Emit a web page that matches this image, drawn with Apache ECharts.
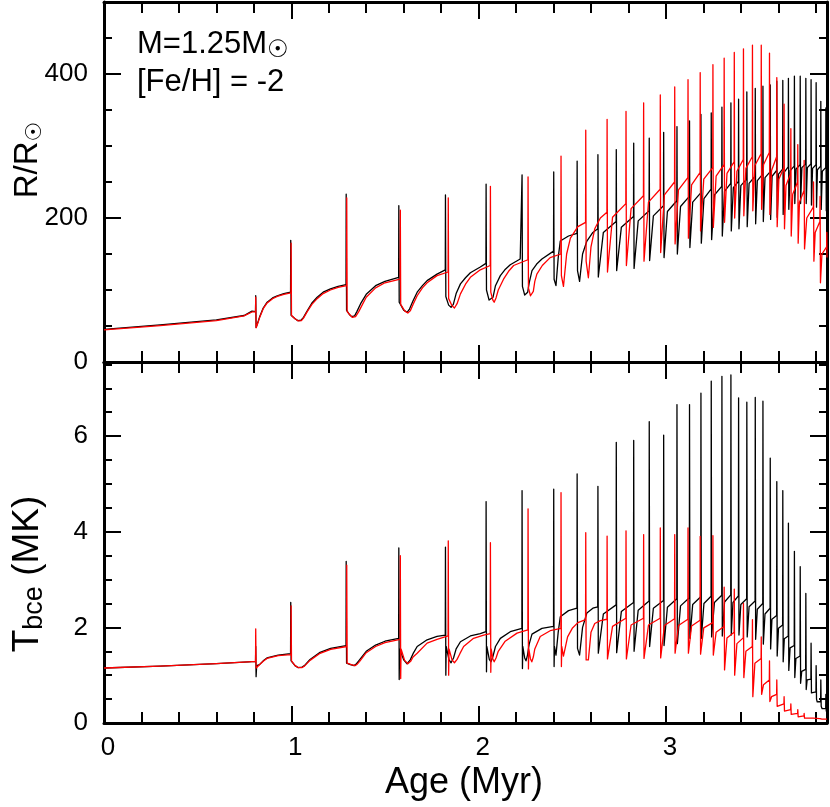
<!DOCTYPE html>
<html><head><meta charset="utf-8">
<script src="https://cdn.jsdelivr.net/npm/echarts@6/dist/echarts.min.js"></script>
<style>html,body{margin:0;padding:0;background:#fff}#c{width:830px;height:807px}</style>
</head><body><div id="c"></div>
<script>
// ---- tick values ----
const xMajorTicks = [0, 1, 2, 3];
const xMinorTicks = [0.2, 0.4, 0.6, 0.8, 1.2, 1.4, 1.6, 1.8, 2.2, 2.4, 2.6, 2.8, 3.2, 3.4, 3.6, 3.8];
const rMajorTicks = [0, 200, 400];
const rMinorTicks = [50, 100, 150, 250, 300, 350, 450];
const tMajorTicks = [0, 2, 4, 6];
const tMinorTicks = [0.5, 1, 1.5, 2.5, 3, 3.5, 4.5, 5, 5.5, 6.5, 7, 7.5];

// ---- data: [age (Myr), value] ----
const radiusBlack = [
[0,45.3],[0.3,51.5],[0.6,58.5],[0.748,64.6],[0.79,70.6],[0.809,70],
[0.810,92],[0.812,48],[0.82,54],[0.83,62],[0.85,75],[0.871,83],[0.90,89],[0.925,92],[0.96,95],[0.996,97],
[0.997,169],[0.999,65],[1.02,60],[1.035,57.5],[1.043,56.7],[1.052,58],[1.065,62],[1.085,71],[1.11,82],[1.138,90],[1.17,97],[1.209,101.6],[1.25,105],[1.292,107.5],
[1.293,233],[1.295,72],[1.31,66],[1.322,63],[1.328,62.5],[1.338,64],[1.35,70],[1.37,81],[1.40,94],[1.45,106],[1.50,112],[1.573,117.6],
[1.574,217],[1.576,83],[1.60,72],[1.61,69.5],[1.618,69],[1.63,73],[1.65,85],[1.672,97],[1.70,106],[1.725,113],[1.778,122],[1.822,128],
[1.823,232],[1.825,91],[1.84,79],[1.853,76],[1.865,80],[1.88,95],[1.903,108.5],[1.93,117],[1.956,124],[2.009,132],[2.039,137],
[2.040,247],[2.042,100],[2.056,86],[2.066,84],[2.077,90],[2.09,106],[2.116,120],[2.14,128],[2.169,135],[2.222,143],[2.231,144],
[2.232,260],[2.234,105],[2.246,93],[2.253,91],[2.262,97],[2.27,110],[2.285,127],[2.31,136],[2.338,143],[2.400,154],
[2.401,264],[2.403,115],[2.413,106],[2.425,145],[2.436,168],[2.480,175],[2.525,178.6],
[2.526,279],[2.528,127],[2.539,112],[2.555,150],[2.578,168],[2.61,180],[2.636,185],
[2.637,288],[2.639,118],[2.666,180],[2.734,195],
[2.735,295],[2.737,127],[2.762,187],[2.827,202],
[2.828,304],[2.830,130],[2.852,196],[2.910,210],
[2.911,311],[2.913,141],[2.933,203],[2.987,217],
[2.988,319],[2.990,145],[3.008,209],[3.058,224],
[3.059,327],[3.061,150],[3.078,216],[3.125,230],
[3.126,335],[3.128,159],[3.143,222],[3.186,235],
[3.187,344],[3.189,165],[3.203,227],[3.241,240],
[3.242,346],[3.244,170],[3.259,232],[3.298,244],
[3.299,354],[3.301,175],[3.313,237],[3.346,248],
[3.347,360],[3.349,182],[3.360,242],[3.387,251],
[3.388,365],[3.390,185],[3.400,245],[3.431,254],
[3.432,375],[3.434,188],[3.444,248],[3.476,258],
[3.477,380],[3.479,192],[3.488,252],[3.517,261],
[3.518,383],[3.520,195],[3.529,256],[3.556,264],
[3.557,385],[3.559,198],[3.567,258],[3.591,266],
[3.592,390],[3.594,201],[3.601,261],[3.623,268],
[3.624,391],[3.626,205],[3.633,264],[3.653,271],
[3.654,394],[3.656,212],[3.664,266],[3.685,272],
[3.686,397],[3.688,220],[3.695,268],[3.716,274],
[3.717,397],[3.719,220],[3.726,270],[3.746,275],
[3.747,394],[3.749,220],[3.755,270],[3.774,275],
[3.775,392],[3.777,218],[3.783,269],[3.801,274],
[3.802,388],[3.804,215],[3.809,267],[3.826,272],
[3.827,362],[3.829,212],[3.835,265],[3.853,270],
[3.854,353],[3.856,210],[3.86,250]
];
const radiusRed = [
[0,44.5],[0.3,50.5],[0.6,57.5],[0.748,64],[0.79,69.5],[0.809,69.5],
[0.810,90],[0.812,47.6],[0.82,53],[0.83,61],[0.85,74],[0.871,82],[0.90,88],[0.925,91],[0.96,94],[0.998,96],
[0.999,165],[1.001,64.6],[1.02,60],[1.037,57],[1.045,56.5],[1.054,57.5],[1.065,61],[1.085,70],[1.11,80],[1.138,88],[1.17,95],[1.209,100],[1.25,103.5],[1.295,106],
[1.296,228],[1.298,70],[1.315,65],[1.326,62],[1.333,61.4],[1.343,63],[1.36,70],[1.38,80],[1.40,90],[1.45,103],[1.50,110],[1.581,115],
[1.582,211],[1.584,80],[1.605,71],[1.615,68.5],[1.622,68],[1.635,71],[1.65,80],[1.672,92],[1.70,103],[1.725,110],[1.778,120],[1.837,125],
[1.838,228],[1.840,88],[1.858,78],[1.871,75],[1.885,81],[1.903,94.6],[1.93,108],[1.956,117.6],[2.009,128],[2.062,134],
[2.063,244],[2.065,97],[2.076,86],[2.083,83],[2.093,89],[2.105,100],[2.133,115],[2.16,126],[2.187,134],[2.263,142],
[2.264,257],[2.266,103],[2.277,92],[2.284,90],[2.292,98],[2.30,112],[2.311,122],[2.34,134],[2.382,145],[2.439,150],
[2.440,286],[2.442,120],[2.453,105],[2.47,150],[2.49,172],[2.53,188],[2.571,194],
[2.572,322],[2.574,140],[2.586,117],[2.60,160],[2.62,185],[2.65,200],[2.685,208],
[2.686,337],[2.688,125],[2.715,201],[2.786,220],
[2.787,348],[2.789,134],[2.814,213],[2.880,231],
[2.881,360],[2.883,140],[2.907,222],[2.969,240],
[2.970,371],[2.972,152],[2.992,232],[3.046,250],
[3.047,382],[3.049,164],[3.067,239],[3.117,256],
[3.118,392],[3.120,172],[3.137,246],[3.182,263],
[3.183,402],[3.185,182],[3.202,254],[3.250,270],
[3.251,413],[3.253,187],[3.268,258],[3.310,274],
[3.311,422],[3.313,194],[3.326,262],[3.364,278],
[3.365,430],[3.367,200],[3.379,265],[3.413,281],
[3.414,435],[3.416,203],[3.427,269],[3.461,285],
[3.462,440],[3.464,210],[3.475,273],[3.508,289],
[3.509,440],[3.511,212],[3.521,274],[3.552,291],
[3.553,429],[3.555,205],[3.564,266],[3.591,285],
[3.592,395],[3.594,188],[3.603,254],[3.630,270],
[3.631,358],[3.633,185],[3.641,245],[3.666,262],
[3.667,324],[3.669,175],[3.677,233],[3.703,250],
[3.704,302],[3.706,165],[3.713,222],[3.737,238],
[3.738,280],[3.740,157],[3.752,200],[3.787,215],
[3.788,250],[3.790,140],[3.797,180],[3.822,195],
[3.823,230],[3.825,110],[3.833,150],[3.858,160],
[3.859,180],[3.86,145]
];
const tempBlack = [
[0,1.15],[0.3,1.19],[0.6,1.24],[0.77,1.28],[0.809,1.29],
[0.810,1.6],[0.812,0.97],[0.815,1.2],[0.83,1.22],[0.85,1.3],[0.87,1.36],[0.93,1.42],[0.996,1.45],
[0.997,2.52],[0.999,1.30],[1.02,1.2],[1.035,1.16],[1.045,1.15],[1.057,1.17],[1.07,1.2],[1.10,1.33],[1.15,1.47],[1.21,1.56],[1.292,1.62],
[1.293,3.38],[1.295,1.25],[1.315,1.22],[1.335,1.2],[1.348,1.24],[1.36,1.3],[1.40,1.5],[1.45,1.63],[1.50,1.71],[1.573,1.77],
[1.574,3.66],[1.576,0.91],[1.578,1.55],[1.60,1.32],[1.618,1.24],[1.635,1.32],[1.65,1.45],[1.672,1.60],[1.725,1.74],[1.778,1.81],[1.822,1.84],
[1.823,3.68],[1.825,1.00],[1.827,1.6],[1.842,1.32],[1.853,1.26],[1.866,1.36],[1.88,1.55],[1.903,1.70],[1.956,1.82],[2.009,1.87],[2.039,1.91],
[2.040,4.63],[2.042,1.07],[2.044,1.6],[2.057,1.33],[2.066,1.28],[2.077,1.4],[2.09,1.60],[2.116,1.77],[2.169,1.91],[2.231,1.98],
[2.232,4.86],[2.234,1.14],[2.236,1.6],[2.246,1.36],[2.253,1.30],[2.261,1.42],[2.27,1.65],[2.285,1.86],[2.338,1.98],[2.400,2.02],
[2.401,4.89],[2.403,1.18],[2.405,1.6],[2.413,1.42],[2.425,1.9],[2.436,2.22],[2.48,2.35],[2.525,2.40],
[2.526,5.21],[2.528,1.56],[2.539,1.42],[2.555,2.0],[2.578,2.30],[2.61,2.40],[2.636,2.43],
[2.637,4.95],[2.639,1.46],[2.666,2.28],[2.734,2.47],
[2.735,5.87],[2.737,1.47],[2.762,2.33],[2.827,2.52],
[2.828,5.91],[2.830,1.50],[2.852,2.36],[2.910,2.55],
[2.911,6.30],[2.913,1.60],[2.933,2.40],[2.987,2.56],
[2.988,6.02],[2.990,1.62],[3.008,2.42],[3.058,2.60],
[3.059,6.66],[3.061,1.66],[3.078,2.45],[3.125,2.62],
[3.126,6.66],[3.128,1.77],[3.143,2.48],[3.186,2.64],
[3.187,6.90],[3.189,1.77],[3.203,2.50],[3.241,2.65],
[3.242,7.15],[3.244,1.80],[3.259,2.52],[3.298,2.67],
[3.299,7.25],[3.301,1.82],[3.313,2.53],[3.346,2.68],
[3.347,7.28],[3.349,1.84],[3.358,2.52],[3.387,2.66],
[3.388,6.80],[3.390,1.84],[3.400,2.48],[3.431,2.60],
[3.432,6.71],[3.434,1.80],[3.444,2.43],[3.476,2.55],
[3.477,6.81],[3.479,1.75],[3.488,2.38],[3.517,2.50],
[3.518,6.73],[3.520,1.65],[3.529,2.28],[3.556,2.40],
[3.557,5.54],[3.559,1.55],[3.566,2.17],[3.591,2.25],
[3.592,5.05],[3.594,1.40],[3.601,1.98],[3.623,2.05],
[3.624,4.86],[3.626,1.28],[3.632,1.76],[3.653,1.82],
[3.654,4.18],[3.656,1.10],[3.663,1.57],[3.685,1.62],
[3.686,3.59],[3.688,0.95],[3.694,1.35],[3.716,1.40],
[3.717,3.27],[3.719,0.83],[3.725,1.08],[3.746,1.12],
[3.747,2.71],[3.749,0.70],[3.754,0.90],[3.774,0.92],
[3.775,1.67],[3.777,0.63],[3.782,0.63],[3.801,0.65],
[3.802,1.2],[3.804,0.50],[3.808,0.44],[3.826,0.45],
[3.827,0.9],[3.829,0.35],[3.834,0.30],[3.853,0.30],
[3.854,0.6],[3.856,0.25],[3.86,0.22]
];
const tempRed = [
[0,1.15],[0.3,1.19],[0.6,1.24],[0.77,1.28],[0.809,1.29],
[0.810,1.97],[0.812,1.15],[0.815,1.18],[0.83,1.22],[0.85,1.29],[0.87,1.35],[0.93,1.41],[0.998,1.43],
[0.999,2.45],[1.001,1.30],[1.02,1.2],[1.037,1.16],[1.047,1.15],[1.058,1.16],[1.07,1.19],[1.10,1.31],[1.15,1.45],[1.21,1.54],[1.295,1.60],
[1.296,3.30],[1.298,1.25],[1.32,1.22],[1.34,1.2],[1.352,1.23],[1.365,1.29],[1.40,1.47],[1.45,1.60],[1.50,1.68],[1.581,1.75],
[1.582,3.50],[1.584,0.93],[1.586,1.55],[1.605,1.31],[1.622,1.24],[1.637,1.29],[1.65,1.38],[1.672,1.46],[1.725,1.67],[1.778,1.75],[1.837,1.82],
[1.838,3.81],[1.840,1.0],[1.842,1.55],[1.858,1.32],[1.871,1.26],[1.885,1.33],[1.90,1.45],[1.920,1.60],[1.973,1.77],[2.027,1.84],[2.062,1.87],
[2.063,3.77],[2.065,1.06],[2.067,1.55],[2.076,1.34],[2.083,1.28],[2.093,1.36],[2.105,1.5],[2.142,1.71],[2.205,1.88],[2.263,1.95],
[2.264,4.48],[2.266,1.13],[2.268,1.55],[2.277,1.34],[2.284,1.28],[2.292,1.38],[2.30,1.55],[2.329,1.81],[2.382,1.93],[2.439,1.98],
[2.440,4.82],[2.442,1.18],[2.444,1.6],[2.453,1.40],[2.475,1.8],[2.50,1.98],[2.53,2.1],[2.571,2.16],
[2.572,3.98],[2.574,1.32],[2.586,1.32],[2.60,1.9],[2.62,2.08],[2.65,2.14],[2.685,2.17],
[2.686,3.91],[2.688,1.34],[2.715,2.02],[2.786,2.19],
[2.787,4.02],[2.789,1.34],[2.814,2.05],[2.880,2.19],
[2.881,3.94],[2.883,1.35],[2.907,2.05],[2.969,2.19],
[2.970,4.08],[2.972,1.36],[2.992,2.04],[3.046,2.18],
[3.047,3.94],[3.049,1.46],[3.067,2.04],[3.117,2.17],
[3.118,4.08],[3.120,1.46],[3.137,2.03],[3.182,2.15],
[3.183,3.90],[3.185,1.44],[3.202,1.99],[3.250,2.10],
[3.251,3.92],[3.253,1.42],[3.268,1.90],[3.310,2.02],
[3.311,2.84],[3.313,1.11],[3.326,1.78],[3.364,1.90],
[3.365,2.80],[3.367,1.00],[3.379,1.66],[3.413,1.78],
[3.414,2.50],[3.416,0.95],[3.427,1.50],[3.461,1.60],
[3.462,2.16],[3.464,0.55],[3.475,1.25],[3.508,1.35],
[3.509,1.80],[3.511,0.60],[3.521,0.80],[3.552,0.90],
[3.553,1.30],[3.555,0.45],[3.564,0.55],[3.591,0.60],
[3.592,0.90],[3.594,0.35],[3.603,0.37],[3.630,0.40],
[3.631,0.55],[3.633,0.25],[3.641,0.26],[3.666,0.28],
[3.667,0.40],[3.669,0.18],[3.677,0.19],[3.703,0.20],
[3.704,0.28],[3.706,0.13],[3.713,0.14],[3.737,0.15],
[3.738,0.20],[3.740,0.10],[3.752,0.10],[3.787,0.10],
[3.788,0.14],[3.790,0.085],[3.797,0.09],[3.822,0.09],
[3.823,0.12],[3.825,0.075],[3.833,0.08],[3.86,0.08]
];

// ---- layout / styles ----
const FONT = '"Liberation Sans", Arial, Helvetica, sans-serif';
const X_MAX = 3.86, R_MAX = 500, T_MAX = 7.55;
const grids = [
  {left: 104, top: 2, width: 723, height: 360},
  {left: 104, top: 362, width: 723, height: 361}
];
function xAx(grid, pos, ticks, len, line, labels) {
  return {
    type: 'value', gridIndex: grid, position: pos, min: 0, max: X_MAX,
    axisLine: {show: line, onZero: false, lineStyle: {color: '#000', width: 3}},
    axisTick: {show: true, inside: true, length: len, customValues: ticks, lineStyle: {color: '#000', width: 2}},
    axisLabel: {show: !!labels, customValues: ticks, margin: 12, color: '#000', fontSize: 26, fontFamily: FONT, padding: [0, 0, 0, 8]},
    splitLine: {show: false}
  };
}
function yAx(grid, pos, max, ticks, len, line, labels) {
  return {
    type: 'value', gridIndex: grid, position: pos, min: 0, max: max,
    axisLine: {show: line, onZero: false, lineStyle: {color: '#000', width: 3}},
    axisTick: {show: true, inside: true, length: len, customValues: ticks, lineStyle: {color: '#000', width: 2}},
    axisLabel: {show: !!labels, customValues: ticks, margin: 16, color: '#000', fontSize: 26, fontFamily: FONT},
    splitLine: {show: false}
  };
}
const xAxes = [
  xAx(0, 'bottom', xMajorTicks, 17, true, false),
  xAx(0, 'bottom', xMinorTicks, 11, false, false),
  xAx(0, 'top', xMajorTicks, 17, true, false),
  xAx(0, 'top', xMinorTicks, 11, false, false),
  xAx(1, 'bottom', xMajorTicks, 17, true, true),
  xAx(1, 'bottom', xMinorTicks, 11, false, false),
  xAx(1, 'top', xMajorTicks, 17, true, false),
  xAx(1, 'top', xMinorTicks, 11, false, false)
];
const yAxes = [
  yAx(0, 'left', R_MAX, rMajorTicks, 17, true, true),
  yAx(0, 'left', R_MAX, rMinorTicks, 8, false, false),
  yAx(0, 'right', R_MAX, rMajorTicks, 17, true, false),
  yAx(0, 'right', R_MAX, rMinorTicks, 8, false, false),
  yAx(1, 'left', T_MAX, tMajorTicks, 17, true, true),
  yAx(1, 'left', T_MAX, tMinorTicks, 8, false, false),
  yAx(1, 'right', T_MAX, tMajorTicks, 17, true, false),
  yAx(1, 'right', T_MAX, tMinorTicks, 8, false, false)
];
function line(data, color, xi, yi) {
  return {
    type: 'line', data: data, xAxisIndex: xi, yAxisIndex: yi,
    showSymbol: false, symbol: 'none', animation: false, clip: true,
    lineStyle: {color: color, width: 1.3, join: 'round'}
  };
}
const chart = echarts.init(document.getElementById('c'), null, {renderer: 'canvas'});
chart.setOption({
  backgroundColor: '#fff',
  animation: false,
  grid: grids,
  xAxis: xAxes,
  yAxis: yAxes,
  series: [
    line(radiusBlack, '#000000', 0, 0),
    line(radiusRed, '#ff0000', 0, 0),
    line(tempBlack, '#000000', 4, 4),
    line(tempRed, '#ff0000', 4, 4)
  ],
  graphic: [
    {type: 'text', left: 137, top: 29, style: {text: 'M=1.25M', font: '31px ' + FONT, fill: '#000'}},
    {type: 'text', left: 267, top: 39, style: {text: '\u2609', font: '24px "DejaVu Sans"', fill: '#000'}},
    {type: 'text', left: 137, top: 67, style: {text: '[Fe/H] = -2', font: '31px ' + FONT, fill: '#000'}},
    {type: 'text', x: 28, y: 160, rotation: Math.PI / 2,
      style: {text: '{n|R/R}{s|\u2609}', align: 'center', verticalAlign: 'middle',
        rich: {n: {fontSize: 33, fontFamily: FONT, lineHeight: 36, fill: '#000'},
               s: {fontSize: 22, fontFamily: '"DejaVu Sans"', lineHeight: 22, verticalAlign: 'bottom', fill: '#000'}}}},
    {type: 'text', x: 28, y: 574, rotation: Math.PI / 2,
      style: {text: '{n|T}{s|bce}{n| (MK)}', align: 'center', verticalAlign: 'middle',
        rich: {n: {fontSize: 37, fontFamily: FONT, lineHeight: 41, fill: '#000'},
               s: {fontSize: 27, fontFamily: FONT, lineHeight: 27, verticalAlign: 'bottom', fill: '#000'}}}},
    {type: 'text', x: 464, y: 783, style: {text: 'Age (Myr)', font: '36px ' + FONT, fill: '#000', align: 'center', verticalAlign: 'middle'}}
  ]
});
</script></body></html>
